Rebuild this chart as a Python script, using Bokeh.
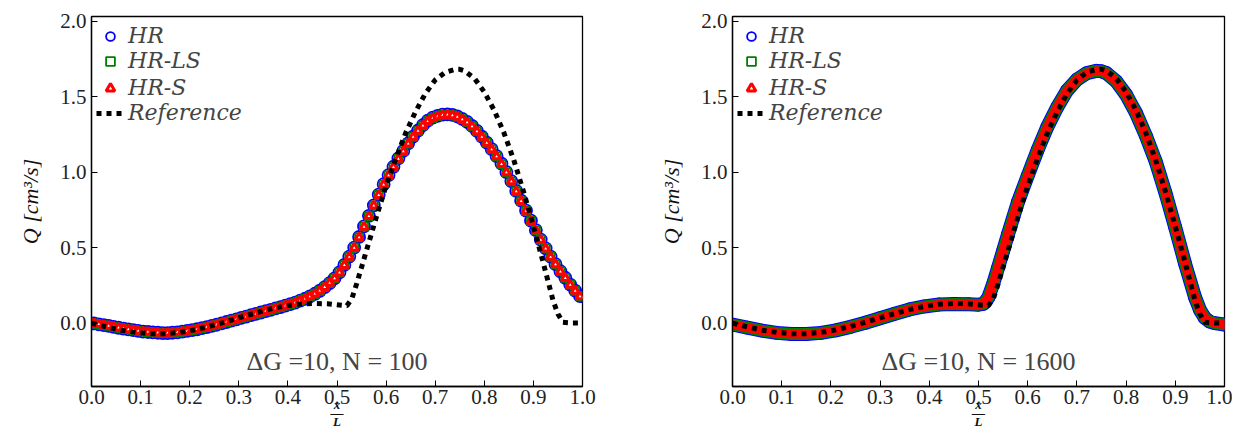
from bokeh.plotting import figure
from bokeh.models import (Range1d, FixedTicker, PrintfTickFormatter, Legend,
                          LegendItem, Label, ColumnDataSource)
from bokeh.layouts import row
from bokeh.embed import file_html
from bokeh.resources import INLINE

# ---------------- data ----------------
# N = 100 (cell centres)
x_coarse = [round((i + 0.5) / 100, 3) for i in range(100)]
hr_coarse = [
    -0.002, -0.008, -0.014, -0.019, -0.025, -0.031, -0.037, -0.042, -0.047, -0.052,
    -0.056, -0.059, -0.062, -0.064, -0.066, -0.066, -0.064, -0.061, -0.057, -0.052,
    -0.047, -0.041, -0.034, -0.027, -0.019, -0.011, -0.002, 0.007, 0.016, 0.025,
    0.034, 0.043, 0.052, 0.061, 0.070, 0.079, 0.088, 0.097, 0.106, 0.115,
    0.125, 0.136, 0.148, 0.161, 0.176, 0.194, 0.214, 0.238, 0.265, 0.296,
    0.335, 0.385, 0.440, 0.500, 0.570, 0.640, 0.710, 0.780, 0.850, 0.920,
    0.980, 1.035, 1.090, 1.140, 1.190, 1.235, 1.275, 1.310, 1.340, 1.360,
    1.372, 1.380, 1.382, 1.378, 1.368, 1.352, 1.332, 1.305, 1.272, 1.235,
    1.195, 1.152, 1.106, 1.055, 1.000, 0.940, 0.875, 0.810, 0.745, 0.678,
    0.615, 0.553, 0.495, 0.440, 0.390, 0.343, 0.300, 0.255, 0.215, 0.178,
]
hr_ls_coarse = [
    -0.002, -0.008, -0.014, -0.019, -0.025, -0.031, -0.037, -0.042, -0.047, -0.052,
    -0.056, -0.059, -0.062, -0.064, -0.066, -0.066, -0.064, -0.061, -0.057, -0.052,
    -0.047, -0.041, -0.034, -0.027, -0.019, -0.011, -0.002, 0.007, 0.016, 0.025,
    0.034, 0.043, 0.052, 0.061, 0.070, 0.079, 0.088, 0.097, 0.106, 0.115,
    0.125, 0.136, 0.148, 0.161, 0.176, 0.194, 0.214, 0.238, 0.265, 0.296,
    0.335, 0.384, 0.439, 0.499, 0.568, 0.638, 0.708, 0.778, 0.848, 0.918,
    0.978, 1.033, 1.088, 1.138, 1.188, 1.233, 1.273, 1.308, 1.338, 1.358,
    1.370, 1.378, 1.380, 1.376, 1.366, 1.350, 1.330, 1.303, 1.270, 1.233,
    1.193, 1.150, 1.104, 1.053, 0.998, 0.938, 0.873, 0.808, 0.743, 0.676,
    0.614, 0.552, 0.494, 0.439, 0.389, 0.342, 0.299, 0.254, 0.214, 0.177,
]
hr_s_coarse = [
    -0.002, -0.008, -0.014, -0.019, -0.025, -0.031, -0.037, -0.042, -0.047, -0.052,
    -0.056, -0.059, -0.062, -0.064, -0.066, -0.066, -0.064, -0.061, -0.057, -0.052,
    -0.047, -0.041, -0.034, -0.027, -0.019, -0.011, -0.002, 0.007, 0.016, 0.025,
    0.034, 0.043, 0.052, 0.061, 0.070, 0.079, 0.088, 0.097, 0.106, 0.115,
    0.125, 0.136, 0.148, 0.161, 0.176, 0.194, 0.214, 0.238, 0.265, 0.296,
    0.334, 0.383, 0.438, 0.498, 0.567, 0.637, 0.707, 0.777, 0.847, 0.917,
    0.977, 1.032, 1.087, 1.137, 1.187, 1.232, 1.272, 1.307, 1.337, 1.357,
    1.369, 1.377, 1.379, 1.375, 1.365, 1.349, 1.329, 1.302, 1.269, 1.232,
    1.192, 1.149, 1.103, 1.052, 0.997, 0.937, 0.872, 0.807, 0.742, 0.675,
    0.613, 0.551, 0.493, 0.438, 0.388, 0.341, 0.298, 0.253, 0.213, 0.176,
]

# N = 1600 (dense, drawn as a continuous band)
x_fine = [0.0, 0.03, 0.06, 0.09, 0.12, 0.15, 0.18, 0.21, 0.24, 0.27, 0.30, 0.33,
          0.36, 0.39, 0.42, 0.45, 0.48, 0.50, 0.51, 0.52, 0.53, 0.54, 0.55, 0.56,
          0.58, 0.60, 0.62, 0.64, 0.66, 0.68, 0.70, 0.72, 0.74, 0.75, 0.76, 0.78,
          0.80, 0.82, 0.84, 0.86, 0.88, 0.90, 0.92, 0.94, 0.95, 0.96, 0.97, 0.98, 1.0]
hr_fine = [-0.010, -0.030, -0.050, -0.065, -0.073, -0.073, -0.065, -0.048, -0.025,
           0.002, 0.032, 0.062, 0.090, 0.110, 0.123, 0.127, 0.125, 0.122, 0.127,
           0.170, 0.262, 0.370, 0.478, 0.588, 0.800, 0.975, 1.145, 1.300, 1.430,
           1.540, 1.612, 1.655, 1.670, 1.667, 1.655, 1.600, 1.512, 1.392, 1.242,
           1.072, 0.862, 0.632, 0.392, 0.172, 0.088, 0.034, 0.010, 0.000, -0.010]
hr_ls_fine = [-0.010, -0.030, -0.050, -0.065, -0.073, -0.073, -0.065, -0.048, -0.025,
              0.002, 0.032, 0.062, 0.090, 0.110, 0.123, 0.127, 0.125, 0.122, 0.127,
              0.170, 0.262, 0.370, 0.478, 0.588, 0.800, 0.975, 1.145, 1.300, 1.430,
              1.540, 1.612, 1.655, 1.670, 1.667, 1.655, 1.600, 1.512, 1.392, 1.242,
              1.072, 0.862, 0.632, 0.392, 0.172, 0.088, 0.034, 0.010, 0.000, -0.010]
hr_s_fine = [-0.010, -0.030, -0.050, -0.065, -0.073, -0.073, -0.065, -0.048, -0.025,
             0.002, 0.032, 0.062, 0.090, 0.110, 0.123, 0.127, 0.125, 0.122, 0.127,
             0.170, 0.262, 0.370, 0.478, 0.588, 0.800, 0.975, 1.145, 1.300, 1.430,
             1.540, 1.612, 1.655, 1.670, 1.667, 1.655, 1.600, 1.512, 1.392, 1.242,
             1.072, 0.862, 0.632, 0.392, 0.172, 0.088, 0.034, 0.010, 0.000, -0.010]

# Reference solution
x_ref = [0.0, 0.03, 0.06, 0.09, 0.12, 0.15, 0.18, 0.21, 0.24, 0.27, 0.30, 0.33, 0.36,
         0.39, 0.42, 0.45, 0.48, 0.51, 0.52, 0.53, 0.54, 0.55, 0.56, 0.58, 0.60, 0.62,
         0.64, 0.66, 0.68, 0.70, 0.72, 0.74, 0.75, 0.76, 0.78, 0.80, 0.82, 0.84, 0.86,
         0.88, 0.90, 0.92, 0.94, 0.95, 0.96, 0.98, 1.0]
q_ref = [0.0, -0.025, -0.047, -0.062, -0.070, -0.070, -0.062, -0.045, -0.022, 0.005,
         0.035, 0.063, 0.090, 0.110, 0.125, 0.130, 0.128, 0.118, 0.115, 0.160, 0.260,
         0.370, 0.480, 0.700, 0.910, 1.090, 1.260, 1.400, 1.520, 1.610, 1.660, 1.680,
         1.680, 1.670, 1.620, 1.530, 1.410, 1.260, 1.080, 0.870, 0.640, 0.400, 0.150,
         0.060, 0.005, 0.0, 0.0]

x_ticks = [0.0, 0.1, 0.2, 0.3, 0.4, 0.5, 0.6, 0.7, 0.8, 0.9, 1.0]
y_ticks = [0.0, 0.5, 1.0, 1.5, 2.0]
labels = ["HR", "HR-LS", "HR-S", "Reference"]
notes = ["\u0394G =10, N = 100", "\u0394G =10, N = 1600"]

SERIF = "Liberation Serif"
LEGEND_FONT = "DejaVu Serif"
LEGEND_Y = [335, 310, 283, 258]   # screen offsets of the legend rows


def style(p):
    p.x_range = Range1d(0.0, 1.0)
    p.y_range = Range1d(-0.42, 2.03)
    p.xgrid.visible = False
    p.ygrid.visible = False
    p.outline_line_color = "black"
    p.outline_line_width = 1.3
    p.xaxis.ticker = FixedTicker(ticks=x_ticks)
    p.yaxis.ticker = FixedTicker(ticks=y_ticks)
    for ax in (p.xaxis[0], p.yaxis[0]):
        ax.formatter = PrintfTickFormatter(format="%.1f")
        ax.major_tick_in = 6
        ax.major_tick_out = 0
        ax.minor_tick_line_color = None
        ax.axis_line_color = "black"
        ax.axis_line_width = 1.3
        ax.major_tick_line_color = "black"
        ax.major_label_text_font = SERIF
        ax.major_label_text_font_size = "21px"
        ax.major_label_text_color = "#222222"
    p.xaxis.major_label_standoff = 3
    p.yaxis.major_label_standoff = 5
    p.yaxis.axis_label = "Q [cm\u00b3/s]"
    p.yaxis.axis_label_text_font = SERIF
    p.yaxis.axis_label_text_font_style = "italic"
    p.yaxis.axis_label_text_font_size = "22px"
    p.yaxis.axis_label_text_color = "#111111"
    p.yaxis.axis_label_standoff = 14
    # x label as a small stacked fraction x over L
    p.xaxis.axis_label = "x\n\u2014\nL"
    p.xaxis.axis_label_text_font = SERIF
    p.xaxis.axis_label_text_font_style = "bold italic"
    p.xaxis.axis_label_text_font_size = "13px"
    p.xaxis.axis_label_text_line_height = 0.58
    p.xaxis.axis_label_text_color = "#111111"
    p.xaxis.axis_label_standoff = -10


def add_legend(p, items):
    for lab, rend, ly in zip(labels, items, LEGEND_Y):
        leg = Legend(items=[LegendItem(label=lab, renderers=[rend])],
                     location=(2, ly))
        leg.label_text_font = LEGEND_FONT
        leg.label_text_font_style = "italic"
        leg.label_text_font_size = "22px"
        leg.background_fill_alpha = 0
        leg.border_line_alpha = 0
        leg.glyph_width = 28
        leg.glyph_height = 22
        leg.label_height = 22
        leg.label_standoff = 4
        leg.spacing = 0
        leg.padding = 3
        leg.margin = 0
        p.add_layout(leg)


def ref_line(p):
    return p.line(x_ref, q_ref, line_color="black", line_width=5,
                  line_dash="5 5", line_cap="butt")


# ---------------- left: N = 100 ----------------
p1 = figure(frame_width=491, frame_height=370, min_border_left=91,
            min_border_right=59, min_border_top=16, min_border_bottom=38,
            output_backend="svg", toolbar_location=None)
style(p1)
src = ColumnDataSource(dict(x=x_coarse, hr=hr_coarse, ls=hr_ls_coarse, s=hr_s_coarse))
r1 = p1.scatter("x", "hr", source=src, marker="circle", size=12, fill_color=None,
                line_color="blue", line_width=1.8)
r2 = p1.scatter("x", "ls", source=src, marker="square", size=8, fill_color=None,
                line_color="green", line_width=1.8)
r3 = p1.scatter("x", "s", source=src, marker="triangle", size=8, fill_color="white",
                line_color="red", line_width=3)
r4 = ref_line(p1)
add_legend(p1, [r1, r2, r3, r4])
p1.add_layout(Label(x=0.5, y=-0.255, text=notes[0], text_font=SERIF,
                    text_font_size="26px", text_align="center",
                    text_baseline="middle"))

# ---------------- right: N = 1600 ----------------
p2 = figure(frame_width=492, frame_height=370, min_border_left=91,
            min_border_right=8, min_border_top=16, min_border_bottom=38,
            output_backend="svg", toolbar_location=None)
style(p2)
fsrc = ColumnDataSource(dict(x=x_fine, hr=hr_fine, ls=hr_ls_fine, s=hr_s_fine))
k1 = p2.scatter("x", "hr", source=fsrc, marker="circle", size=12, fill_color=None,
                line_color="blue", line_width=1.8)
k2 = p2.scatter("x", "ls", source=fsrc, marker="square", size=8, fill_color=None,
                line_color="green", line_width=1.8)
k3 = p2.scatter("x", "s", source=fsrc, marker="triangle", size=8, fill_color="white",
                line_color="red", line_width=3)
p2.line("x", "hr", source=fsrc, line_color="blue", line_width=14,
        line_join="round", line_cap="round")
p2.line("x", "ls", source=fsrc, line_color="green", line_width=12,
        line_join="round", line_cap="round")
p2.line("x", "s", source=fsrc, line_color="red", line_width=9,
        line_join="round", line_cap="round")
k4 = ref_line(p2)
add_legend(p2, [k1, k2, k3, k4])
p2.add_layout(Label(x=0.5, y=-0.255, text=notes[1], text_font=SERIF,
                    text_font_size="26px", text_align="center",
                    text_baseline="middle"))

layout = row(p1, p2)
open("out.html", "w").write(file_html(layout, INLINE))
